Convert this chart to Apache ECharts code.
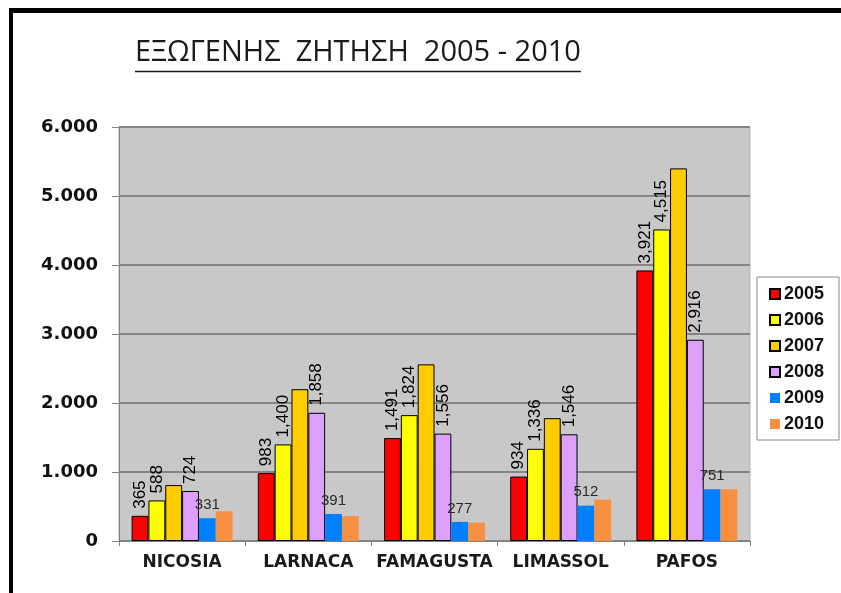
<!DOCTYPE html>
<html>
<head>
<meta charset="utf-8">
<script src="https://cdn.jsdelivr.net/npm/echarts@6/dist/echarts.min.js"></script>
<style>
  html, body { margin: 0; padding: 0; background: #fff; }
  #chart { width: 841px; height: 593px; }
</style>
</head>
<body>
<div id="chart"></div>
<script>
// data
var regions = ['NICOSIA', 'LARNACA', 'FAMAGUSTA', 'LIMASSOL', 'PAFOS'];
var years = ['2005', '2006', '2007', '2008', '2009', '2010'];
var y2005 = [365, 983, 1491, 934, 3921];
var y2006 = [588, 1400, 1824, 1336, 4515];
var y2007 = [810, 2200, 2560, 1780, 5400];
var y2008 = [724, 1858, 1556, 1546, 2916];
var y2009 = [331, 391, 277, 512, 751];
var y2010 = [430, 360, 265, 600, 750];
var yTicks = [0, 1000, 2000, 3000, 4000, 5000, 6000];

var titleText = 'ΕΞΩΓΕΝΗΣ  ΖΗΤΗΣΗ  2005 - 2010';
var titleFont = '29px "Open Sans"';

function comma(v) {
    return String(v).replace(/\B(?=(\d{3})+(?!\d))/g, ',');
}
function dot(v) {
    return String(v).replace(/\B(?=(\d{3})+(?!\d))/g, '.');
}

// measure title for the underline
var cv = document.createElement('canvas').getContext('2d');
cv.font = titleFont;
var titleW = cv.measureText(titleText).width;

var rotLabel = {
    show: true,
    position: 'top',
    rotate: 90,
    align: 'left',
    verticalAlign: 'middle',
    distance: 7,
    fontFamily: '"Liberation Sans", Arial',
    fontSize: 17,
    color: '#000',
    formatter: function (p) { return comma(p.value); }
};
var flatLabel = {
    show: true,
    position: 'top',
    distance: 6,
    fontFamily: '"Liberation Sans", Arial',
    fontSize: 15,
    color: '#2a2a2a',
    formatter: function (p) { return comma(p.value); }
};

function bar(name, data, color, border, label) {
    return {
        name: name,
        type: 'bar',
        data: data,
        barGap: '0%',
        barCategoryGap: '20%',
        itemStyle: {
            color: color,
            borderColor: border ? '#000' : color,
            borderWidth: border ? 1 : 0
        },
        label: label || { show: false }
    };
}

var myChart = echarts.init(document.getElementById('chart'));
var option = {
    animation: false,
    backgroundColor: '#fff',
    grid: {
        left: 119,
        right: 91,
        top: 127,
        bottom: 52,
        show: true,
        backgroundColor: '#c8c8c8',
        borderColor: '#b4b4b4',
        borderWidth: 1
    },
    legend: {
        orient: 'vertical',
        left: 757,
        top: 277,
        padding: [8, 15, 7, 12],
        itemGap: 8,
        itemWidth: 10,
        itemHeight: 10,
        backgroundColor: '#fff',
        borderColor: '#8a8a8a',
        borderWidth: 1,
        icon: 'rect',
        textStyle: {
            fontFamily: '"Liberation Sans", Arial',
            fontWeight: 'bold',
            fontSize: 18,
            color: '#111',
            padding: [0, 0, 0, -1]
        },
        data: years
    },
    xAxis: {
        type: 'category',
        data: regions,
        axisLine: { lineStyle: { color: '#808080', width: 1 } },
        axisTick: { show: true, length: 5, lineStyle: { color: '#808080' } },
        axisLabel: {
            interval: 0,
            hideOverlap: false,
            margin: 13,
            fontFamily: '"DejaVu Sans"',
            fontWeight: 'bold',
            fontSize: 17,
            color: '#1a1a1a'
        }
    },
    yAxis: {
        type: 'value',
        min: yTicks[0],
        max: yTicks[yTicks.length - 1],
        interval: yTicks[1] - yTicks[0],
        axisLine: { show: true, lineStyle: { color: '#808080', width: 1 } },
        axisTick: { show: true, length: 7, lineStyle: { color: '#808080' } },
        splitLine: { lineStyle: { color: '#858585', width: 2 } },
        axisLabel: {
            margin: 21,
            fontFamily: '"DejaVu Sans"',
            fontWeight: 'bold',
            fontSize: 18,
            color: '#111',
            formatter: function (v) { return dot(v); }
        }
    },
    graphic: [
        { type: 'line', shape: { x1: 9, y1: 10.5, x2: 841, y2: 10.5 }, style: { stroke: '#000', lineWidth: 5 } },
        { type: 'line', shape: { x1: 11, y1: 8, x2: 11, y2: 593 }, style: { stroke: '#000', lineWidth: 4 } },
        {
            type: 'text', left: 135, top: 38,
            style: { text: titleText, font: titleFont, fill: '#1a1a1a' }
        },
        { type: 'line', shape: { x1: 135, y1: 71.5, x2: 135 + titleW, y2: 71.5 }, style: { stroke: '#1a1a1a', lineWidth: 1.5 } }
    ],
    series: [
        bar('2005', y2005, '#ff0000', true, rotLabel),
        bar('2006', y2006, '#ffff00', true, rotLabel),
        bar('2007', y2007, '#ffcc00', true),
        bar('2008', y2008, '#dda0ff', true, rotLabel),
        bar('2009', y2009, '#0080ff', false, flatLabel),
        bar('2010', y2010, '#f79040', false)
    ]
};
myChart.setOption(option);
</script>
</body>
</html>
